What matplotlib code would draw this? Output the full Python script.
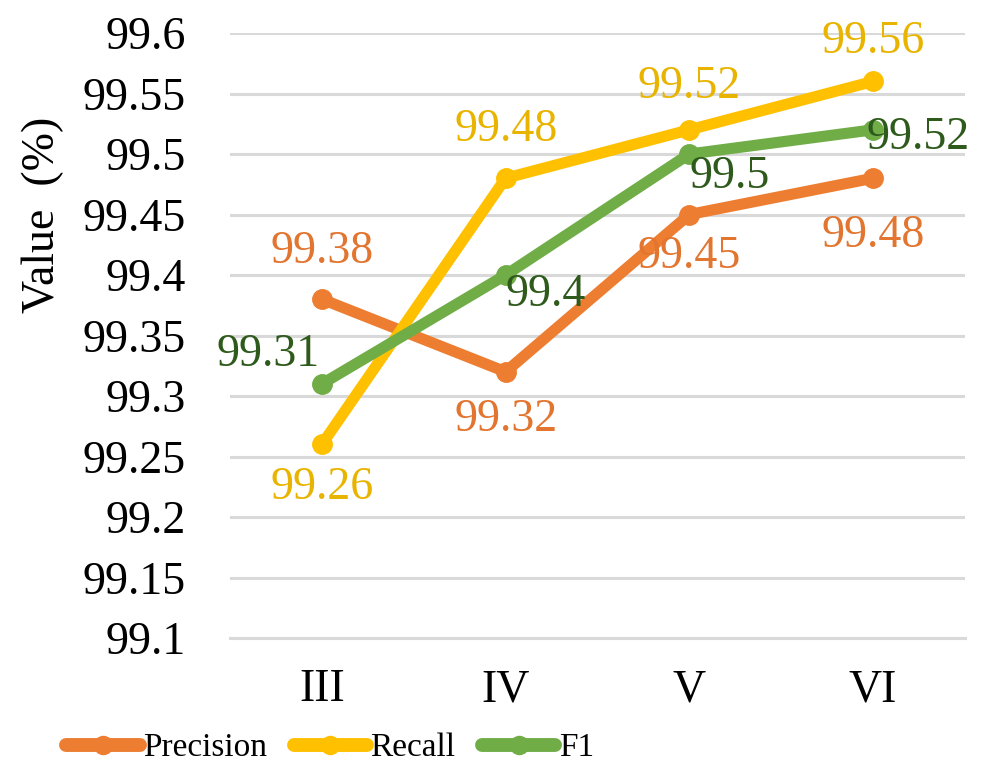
import matplotlib.pyplot as plt
import numpy as np

plt.rcParams['font.family'] = ['Liberation Serif', 'DejaVu Serif']

categories = ['III', 'IV', 'V', 'VI']
precision = [99.38, 99.32, 99.45, 99.48]
recall = [99.26, 99.48, 99.52, 99.56]
f1 = [99.31, 99.40, 99.50, 99.52]

yticks = [99.1, 99.15, 99.2, 99.25, 99.3, 99.35, 99.4, 99.45, 99.5, 99.55, 99.6]
ytick_labels = ['99.1', '99.15', '99.2', '99.25', '99.3', '99.35', '99.4', '99.45', '99.5', '99.55', '99.6']

# line colour, label colour, label offsets (pixels) per point
series = [
    ('Precision', precision, '#ED7D31', '#E2752F',
     [(0, 47), (0, -48), (0, -42), (0, -58)]),
    ('Recall', recall, '#FFC000', '#E8B400',
     [(0, -43), (0, 48), (0, 43), (0, 40)]),
    ('F1', f1, '#70AD47', '#2E5A1C',
     [(-54, 29), (40, -20), (40, -23), (45, -8)]),
]

fig = plt.figure(figsize=(9.85, 7.71), dpi=100)
ax = fig.add_axes([230 / 985, 1 - 638 / 771, 735 / 985, 605 / 771])

x = np.arange(len(categories))
for name, vals, color, lcolor, offs in series:
    ax.plot(x, vals, color=color, lw=8, marker='o', ms=14, label=name,
            solid_capstyle='round', zorder=3)
    for xi, v, (dx, dy) in zip(x, vals, offs):
        ax.annotate(f'{v:g}', (xi, v), xytext=(dx, dy), textcoords='offset pixels',
                    ha='center', va='center', fontsize=33, color=lcolor, zorder=4)

ax.set_xlim(-0.5, len(categories) - 0.5)
ax.set_ylim(99.1, 99.6)
ax.set_yticks(yticks)
ax.set_yticklabels(ytick_labels)
ax.set_xticks(x)
ax.set_xticklabels(categories)
ax.tick_params(axis='y', length=0, pad=32, labelsize=33)
ax.tick_params(axis='x', length=0, pad=22, labelsize=33)
ax.grid(axis='y', color='#D9D9D9', lw=2.2)
ax.set_axisbelow(True)
for s in ['top', 'right', 'left']:
    ax.spines[s].set_visible(False)
ax.spines['bottom'].set_color('#D9D9D9')
ax.spines['bottom'].set_linewidth(2.2)

fig.text(43 / 985, 1 - 215 / 771, 'Value  (%)', rotation=90, ha='center', va='center',
         fontsize=33)

leg = fig.legend(loc='center', bbox_to_anchor=(330 / 985, 1 - 748 / 771), ncol=3,
                 frameon=False, fontsize=24, handlelength=2.2, columnspacing=0.8,
                 handletextpad=0.1)
for h in leg.legend_handles:
    h.set_linewidth(10)
    h.set_markersize(13)

fig.savefig('out.png', dpi=100)
